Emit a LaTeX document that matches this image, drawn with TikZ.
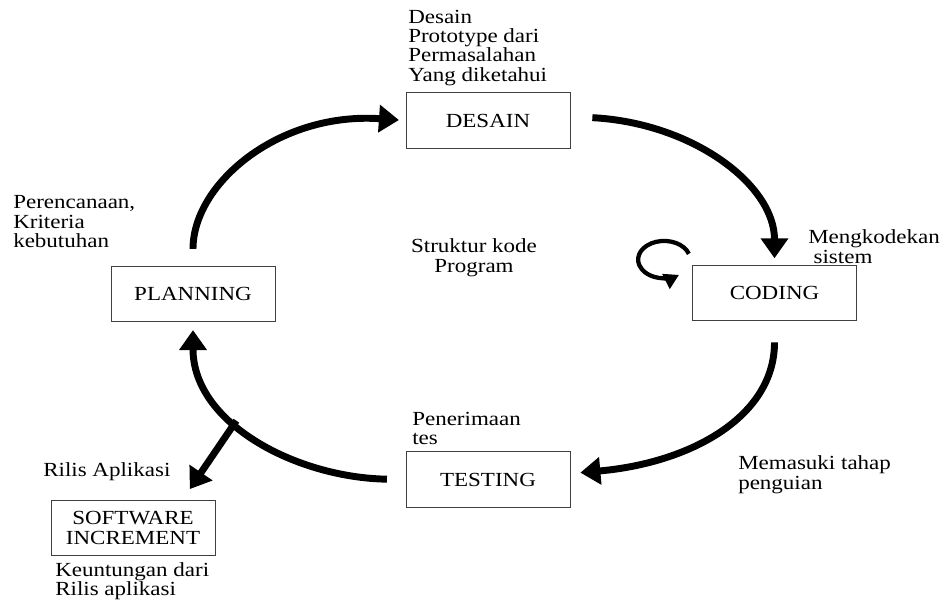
\documentclass[tikz,border=0pt]{standalone}
\usepackage{fontspec}
\setmainfont{Liberation Serif}[FakeStretch=1.15]
\usepackage{tikz}
\usetikzlibrary{arrows.meta}

\begin{document}
\begin{tikzpicture}[x=0.75pt,y=-0.75pt,
  font=\fontsize{15}{14.6}\selectfont,
  phase/.style={draw=black!75,line width=0.6pt,minimum width=123pt,minimum height=41.5pt,align=center,inner sep=2pt},
  note/.style={anchor=north west,align=left,inner sep=0pt},
  flow/.style={line width=5.2pt,-{Triangle[length=15pt,width=20pt]}},
  selfloop/.style={line width=3.2pt,-{Triangle[length=11pt,width=12pt]}}]
\useasboundingbox (0,0) rectangle (946,601);
\node[phase] (desain) at (488,120.5) {DESAIN};
\node[phase] (planning) at (193,294) {PLANNING};
\node[phase] (coding) at (774.5,293) {CODING};
\node[phase] (testing) at (488,479.5) {TESTING};
\node[phase] (software) at (133,528) {SOFTWARE\\INCREMENT};
\node[note] (desainnote) at (408,9.5) {Desain\\Prototype dari\\Permasalahan\\Yang diketahui};
\node[note] (plannote) at (13,195.5) {Perencanaan,\\Kriteria\\kebutuhan};
\node[anchor=north,align=center,inner sep=0pt] (kodenote) at (474,238.5) {Struktur kode\\Program};
\node[note] (codingnote) at (808,229.5) {Mengkodekan\\\hspace*{4pt}sistem};
\node[note] (testnote) at (412,411.5) {Penerimaan\\tes};
\node[note] (ujinote) at (738,455.5) {Memasuki tahap\\penguian};
\node[note] (rilisnote) at (43,462.5) {Rilis Aplikasi};
\node[note] (untungnote) at (55,562) {Keuntungan dari\\Rilis aplikasi};
\path[flow] (planning.north) edge[out=90,in=176,out distance=62pt,in distance=95pt,shorten <=12.75pt,shorten >=5pt] (desain.west);
\path[flow] ([yshift=3pt]desain.east) edge[out=-3,in=90,out distance=92pt,in distance=60pt,shorten <=16.5pt,shorten >=5pt] (coding.north);
\path[flow] (coding.south) edge[out=270,in=5,out distance=72pt,in distance=90pt,shorten <=16pt,shorten >=7.5pt] ([yshift=4.5pt]testing.east);
\path[flow] (testing.west) edge[out=179,in=270,out distance=82pt,in distance=76pt,shorten <=14pt,shorten >=6pt] coordinate[pos=0.6] (rilis) (planning.south);
\path[flow] (rilis) edge[shorten >=5pt] ([xshift=-22pt,yshift=4pt]software.north east);
\coordinate (loopc) at ([xshift=-21pt,yshift=4pt]coding.north west);
\draw[selfloop] ([shift={(18:19.5pt and 14pt)}]loopc) arc[start angle=18,end angle=305,x radius=19.5pt,y radius=14pt];
\end{tikzpicture}
\end{document}
